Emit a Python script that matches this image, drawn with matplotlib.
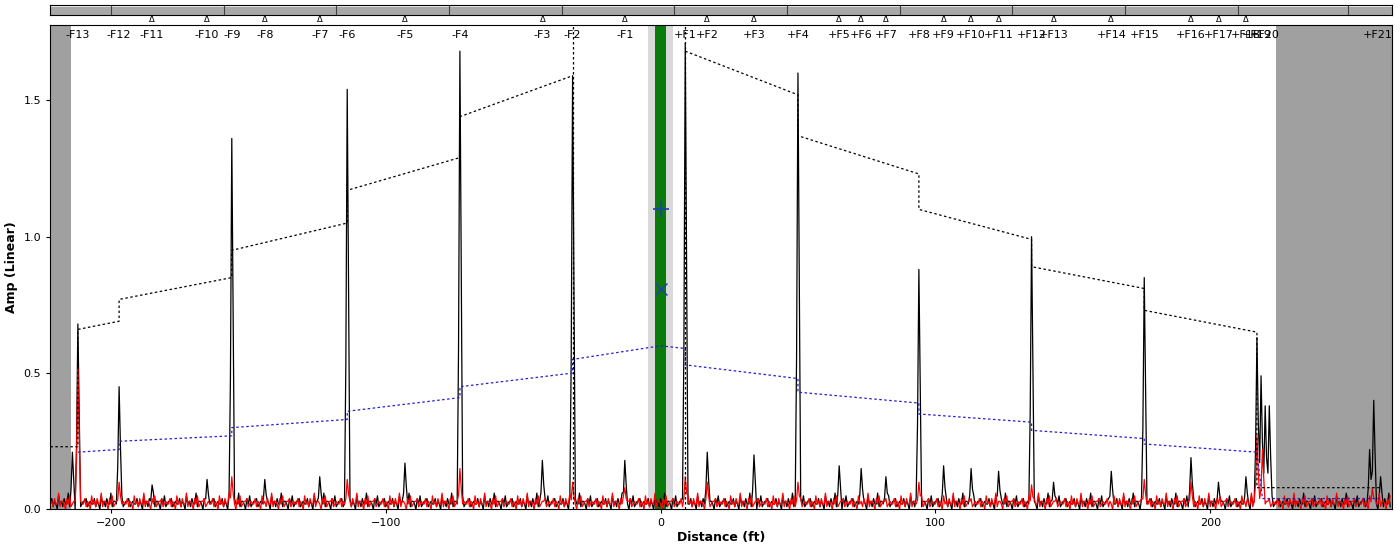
import numpy as np
import matplotlib.pyplot as plt

# event labels and positions (ft)
ev_names = ['-F13', '-F12', '-F11', '-F10', '-F9', '-F8', '-F7', '-F6', '-F5', '-F4', '-F3', '-F2', '-F1',
            '+F1', '+F2', '+F3', '+F4', '+F5', '+F6', '+F7', '+F8', '+F9', '+F10', '+F11', '+F12', '+F13',
            '+F14', '+F15', '+F16', '+F17', '+F18', '+F19', '+F20', '+F21']
ev_pos = [-212, -197, -185, -165, -156, -144, -124, -114, -93, -73, -43, -32, -13,
          9, 17, 34, 50, 65, 73, 82, 94, 103, 113, 123, 135, 143,
          164, 176, 193, 203, 213, 217, 220, 261]

# reflection peaks (black trace): position, height
pk_pos = [-214, -212, -197, -185, -165, -156, -144, -124, -114, -93, -73, -43, -32, -13,
          9, 17, 34, 50, 65, 73, 82, 94, 103, 113, 123, 135, 143, 164, 176, 193, 203, 213,
          217, 218.5, 220, 221.5, 258, 259.5, 262]
pk_h = [0.21, 0.68, 0.45, 0.09, 0.11, 1.36, 0.11, 0.12, 1.54, 0.17, 1.68, 0.18, 1.59, 0.18,
        1.71, 0.21, 0.20, 1.60, 0.16, 0.15, 0.12, 0.88, 0.16, 0.15, 0.14, 1.00, 0.10, 0.14, 0.85, 0.19, 0.10, 0.12,
        0.63, 0.49, 0.38, 0.38, 0.22, 0.40, 0.12]
# red trace peaks
rd_pos = [-212, -197, -156, -114, -73, -32, -13, 9, 17, 50, 94, 135, 176, 193, 217, 219, 259]
rd_h = [0.52, 0.10, 0.12, 0.11, 0.15, 0.10, 0.08, 0.12, 0.10, 0.10, 0.10, 0.09, 0.11, 0.10, 0.27, 0.22, 0.08]
noise = [0.02, 0.04, 0.01, 0.03, 0.02, 0.00, 0.05, 0.02, 0.03, 0.01, 0.04, 0.02, 0.02, 0.06, 0.01,
         0.03, 0.03, 0.02, 0.00, 0.04, 0.02, 0.05, 0.01, 0.02, 0.03, 0.03, 0.04, 0.01, 0.02, 0.03, 0.02]

# loss thresholds (dashed): segment x and y, nan = gap
blk_x = [-222, -212, -212, -197, -197, -156, -156, -114, -114, -73, -73, -32, np.nan,
         9, 50, 50, 94, 94, 135, 135, 176, 176, 217, 217, 262]
blk_y = [0.23, 0.23, 0.66, 0.69, 0.77, 0.85, 0.95, 1.05, 1.17, 1.29, 1.44, 1.59, np.nan,
         1.68, 1.52, 1.37, 1.23, 1.10, 0.99, 0.89, 0.81, 0.73, 0.65, 0.08, 0.08]
blu_x = [-212, -197, -197, -156, -156, -114, -114, -73, -73, -32, -32, 0, 9, 9, 50, 50, 94,
         94, 135, 135, 176, 176, 217, 219, 262]
blu_y = [0.21, 0.22, 0.25, 0.27, 0.30, 0.33, 0.36, 0.41, 0.45, 0.50, 0.55, 0.60, 0.59,
         0.53, 0.48, 0.43, 0.39, 0.35, 0.32, 0.29, 0.26, 0.24, 0.21, 0.04, 0.04]


def build_trace(pos, h, shift):
    xs = np.arange(-222, 266, 0.5)
    ys = np.array([noise[(i + shift) % len(noise)] for i in range(len(xs))])
    for p, v in zip(pos, h):
        i = int(np.argmin(np.abs(xs - p)))
        ys[i] = v
        ys[i - 1] = max(ys[i - 1], v * 0.35)
        ys[i + 1] = max(ys[i + 1], v * 0.5)
    return xs, ys


fig = plt.figure(figsize=(14, 5.49), dpi=100)
ax = fig.add_axes([0.036, 0.072, 0.958, 0.882])
top = fig.add_axes([0.036, 0.972, 0.958, 0.018])

ax.axvspan(-222, -214.5, color='#a0a0a0', lw=0)
ax.axvspan(224, 266, color='#a0a0a0', lw=0)
ax.axvspan(-4.4, 4.4, color='#d9d9d9', lw=0)
ax.axvspan(-2, 2, color='#0a7a0a', lw=0)

xb, yb = build_trace(pk_pos, pk_h, 0)
xr, yr = build_trace(rd_pos, rd_h, 7)
ax.plot(xb, yb, color='black', lw=0.9)
ax.plot(xr, yr, color='red', lw=0.9)
ax.plot(blk_x, blk_y, color='black', lw=0.9, dashes=(2, 2))
ax.plot(blu_x, blu_y, color='#2020d0', lw=0.9, dashes=(2, 2))
ax.axvline(-32, color='black', lw=0.9, dashes=(2, 2))
ax.axvline(9, color='black', lw=0.9, dashes=(2, 2))
ax.plot([0], [1.10], marker='+', ms=12, color='#1f3fb0', mew=1.2)
ax.plot([0], [0.81], marker='x', ms=9, color='#1f3fb0', mew=1.0)

for n, p in zip(ev_names, ev_pos):
    ax.text(p, 1.74, n, ha='center', va='center', fontsize=8)

ax.set_xlim(-222, 266)
ax.set_ylim(0, 1.775)
ax.set_xticks([-200, -100, 0, 100, 200])
ax.set_yticks([0, 0.5, 1.0, 1.5])
ax.set_yticklabels(['0.0', '0.5', '1.0', '1.5'])
ax.tick_params(labelsize=8, length=3)
ax.set_xlabel('Distance (ft)', fontsize=9, fontweight='bold', labelpad=2)
ax.set_ylabel('Amp (Linear)', fontsize=9, fontweight='bold')

# overview strip on top
top.set_xlim(-222, 266)
top.set_ylim(0, 1)
top.axhspan(0.15, 0.85, color='#a8a8a8')
for v in [-200, -159, -118, -77, -36, 5, 46, 87, 128, 169, 210, 250]:
    top.axvline(v, color='#404040', lw=0.8)
top.set_xticks([])
top.set_yticks([])
for s in top.spines.values():
    s.set_linewidth(0.8)
for p in ev_pos[:-1]:
    if p not in pk_pos or pk_h[pk_pos.index(p)] < 0.3:
        fig.text(0.036 + 0.958 * (p + 222) / 488, 0.966, r'$\Delta$', ha='center', va='center', fontsize=6)

fig.savefig('out.png', dpi=100)
